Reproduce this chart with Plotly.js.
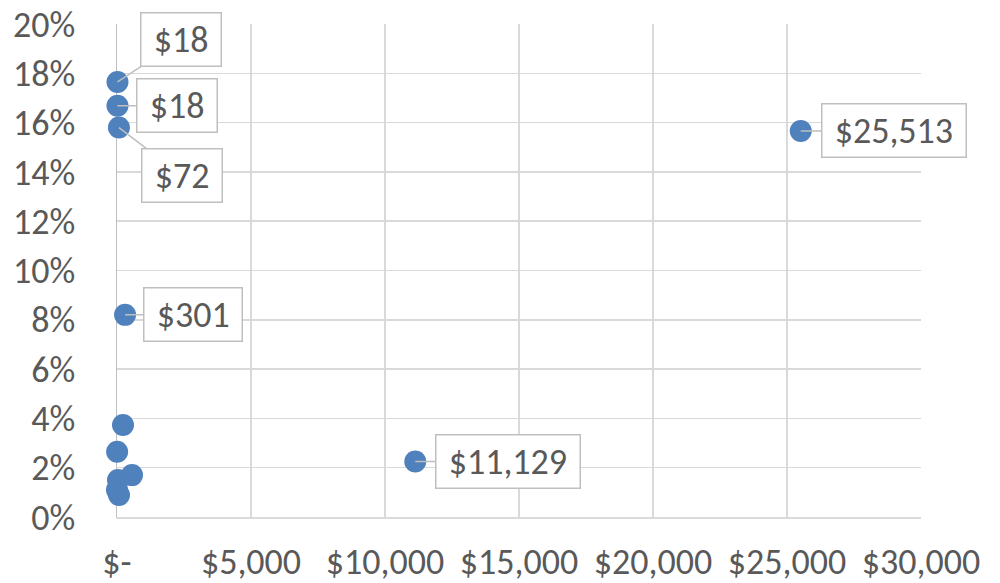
<!DOCTYPE html>
<html>
<head>
<meta charset="utf-8">
<script src="https://cdn.plot.ly/plotly-3.0.1.min.js"></script>
<style>html,body{margin:0;padding:0;background:#fff;}#chart{width:1000px;height:583px;}</style>
</head>
<body>
<div id="chart"></div>
<script>
// Data
const costs   = [18, 18, 72, 301, 11129, 25513, 224, 5, 560, 37, 0, 75];
const rates   = [0.1765, 0.1668, 0.158, 0.082, 0.0225, 0.1566, 0.0373, 0.0265, 0.017, 0.015, 0.011, 0.0089];
const labels  = ["$18", "$18", "$72", "$301", "$11,129", "$25,513", "", "", "", "", "", ""];
const xTickVals  = [0, 5000, 10000, 15000, 20000, 25000, 30000];
const xTickText  = ["$-", "$5,000", "$10,000", "$15,000", "$20,000", "$25,000", "$30,000"];
const yTickVals  = [0, 0.02, 0.04, 0.06, 0.08, 0.10, 0.12, 0.14, 0.16, 0.18, 0.20];

// label callout offsets (pixels), styling only
const labelOffsets = [[64,-42],[60,0],[63,48],[68,0],[93,0],[93,0]];

const FONT = "Carlito, Calibri, Lato, sans-serif";
const textColor = "#595959";

const annotations = [];
labels.forEach((t, i) => {
  if (!t) return;
  const off = labelOffsets[i];
  annotations.push({
    x: costs[i], y: rates[i], xref: 'x', yref: 'y',
    text: '\u00a0' + t + '\u00a0', showarrow: true, arrowhead: 0, arrowwidth: 1.5,
    arrowcolor: '#bfbfbf', ax: off[0], ay: off[1],
    bgcolor: '#ffffff', bordercolor: '#bfbfbf', borderwidth: 1.5, borderpad: 4,
    font: {family: FONT, size: 36, color: textColor}
  });
});

const trace = {
  x: costs, y: rates, type: 'scatter', mode: 'markers',
  cliponaxis: false,
  marker: {size: 22, color: '#4f81bd'},
  hoverinfo: 'skip'
};

const layout = {
  width: 1000, height: 583,
  margin: {l: 117, r: 79, t: 24, b: 66},
  paper_bgcolor: '#ffffff', plot_bgcolor: '#ffffff',
  showlegend: false,
  font: {family: FONT, color: textColor, size: 36},
  xaxis: {
    range: [0, 30000], tickvals: xTickVals, ticktext: xTickText,
    showgrid: true, gridcolor: '#d9d9d9', gridwidth: 1.5,
    zeroline: false, showline: true, linecolor: '#d9d9d9', linewidth: 1.5,
    ticks: '', ticklabelstandoff: 12, layer: 'below traces',
    tickfont: {family: FONT, size: 36, color: textColor}
  },
  yaxis: {
    range: [0, 0.20], tickvals: yTickVals, tickformat: '.0%',
    showgrid: true, gridcolor: '#d9d9d9', gridwidth: 1.5,
    zeroline: false, showline: true, linecolor: '#bfbfbf', linewidth: 1.5,
    ticks: '', ticklabelstandoff: 33, layer: 'below traces',
    tickfont: {family: FONT, size: 36, color: textColor}
  },
  annotations: annotations
};

Plotly.newPlot('chart', [trace], layout, {displayModeBar: false, staticPlot: true});
</script>
</body>
</html>
